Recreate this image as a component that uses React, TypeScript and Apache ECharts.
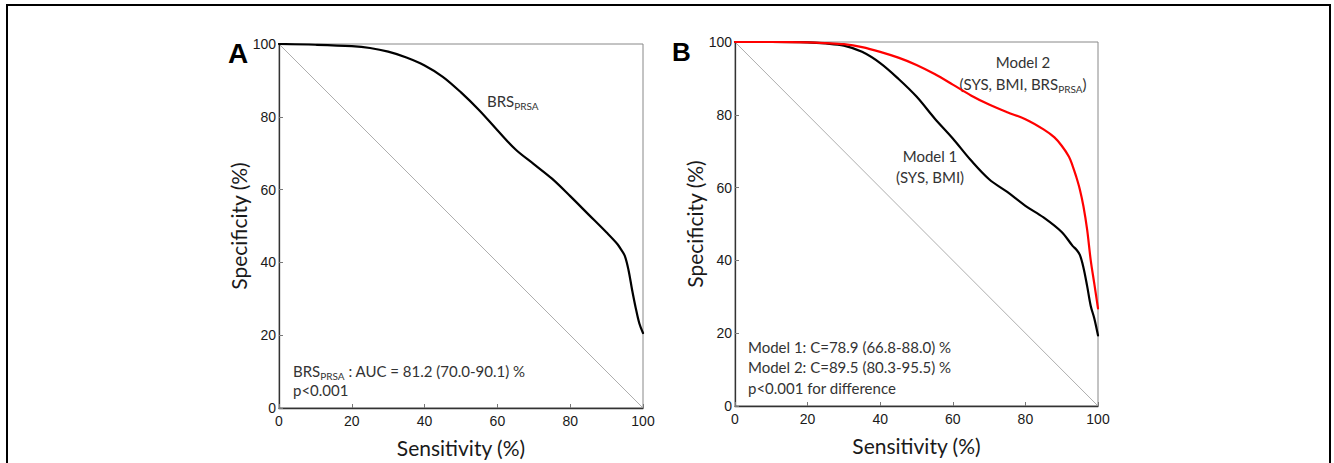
import React, { useEffect, useRef } from "react";
import * as echarts from "echarts";

// ---------------- data ----------------
const tickValues = [0, 20, 40, 60, 80, 100];

// Panel A: BRS_PRSA ROC curve (sensitivity %, specificity %)
const sensitivityA = [0, 10, 20, 25, 30, 35, 40, 45, 50, 55, 60, 65, 70, 75, 80, 85, 90, 93, 94, 95, 96, 97, 98, 99, 100];
const specificityA = [100, 99.8, 99.4, 98.9, 97.9, 96.3, 94.1, 91, 86.7, 81.8, 76.3, 71, 67, 63, 58.2, 53.2, 48.2, 45, 43.5, 41.8, 38, 32.5, 27.5, 23.2, 20.6];

// Panel B: Model 1 (SYS, BMI)
const sensitivityM1 = [0, 10, 20, 25, 30, 35, 40, 45, 50, 55, 60, 65, 70, 75, 80, 85, 90, 93, 94, 95, 96, 97, 98, 99, 100];
const specificityM1 = [100, 100, 99.9, 99.6, 99, 97.3, 94.2, 89.9, 85, 79, 73.5, 67.5, 62.3, 58.8, 55, 51.8, 47.8, 44, 43, 41.5, 38, 33, 27.5, 24, 19.4];

// Panel B: Model 2 (SYS, BMI, BRS_PRSA)
const sensitivityM2 = [0, 10, 20, 25, 30, 35, 40, 45, 50, 55, 60, 65, 70, 75, 80, 85, 88, 90, 92, 93, 94, 95, 96, 97, 98, 99, 100];
const specificityM2 = [100, 100, 99.9, 99.7, 99.4, 98.6, 97.3, 95.7, 93.7, 91.2, 88.3, 85.3, 82.8, 80.7, 78.8, 76, 73.8, 71.5, 68.5, 66, 63, 59.5, 54.8, 48.5, 40, 33.5, 26.8];

// Chance diagonal
const diagonalSens = [0, 100];
const diagonalSpec = [100, 0];

// ---------------- styles ----------------
const annotFont = "Lato, 'Open Sans', sans-serif";
const tickFont = "'Liberation Sans', Arial, sans-serif";
const subRich = {
  s: { fontSize: 10, fontFamily: annotFont, fill: "#333", verticalAlign: "bottom", lineHeight: 10 },
};

const pairs = (xs: number[], ys: number[]) => xs.map((x, i) => [x, ys[i]]);

function makeX(gridIndex: number) {
  return {
    type: "value",
    gridIndex,
    min: 0,
    max: 100,
    interval: 20,
    axisLine: { show: true, onZero: false, lineStyle: { color: "#333", width: 1.3 } },
    axisTick: { show: true, inside: true, length: 4, lineStyle: { color: "#777" } },
    axisLabel: {
      color: "#1a1a1a",
      fontFamily: tickFont,
      fontSize: 14,
      margin: 6,
      formatter: (v: number) => (tickValues.includes(v) ? String(v) : ""),
    },
    splitLine: { show: false },
    name: "Sensitivity (%)",
    nameLocation: "middle",
    nameGap: 29,
    nameTextStyle: { fontFamily: annotFont, fontSize: 21, color: "#1a1a1a" },
  };
}

function makeY(gridIndex: number) {
  return {
    type: "value",
    gridIndex,
    min: 0,
    max: 100,
    interval: 20,
    axisLine: { show: true, onZero: false, lineStyle: { color: "#333", width: 1.3 } },
    axisTick: { show: true, inside: true, length: 4, lineStyle: { color: "#777" } },
    axisLabel: {
      color: "#1a1a1a",
      fontFamily: tickFont,
      fontSize: 14,
      margin: 3,
      formatter: (v: number) => (tickValues.includes(v) ? String(v) : ""),
    },
    splitLine: { show: false },
    name: "Specificity (%)",
    nameLocation: "middle",
    nameRotate: 90,
    nameGap: 30,
    nameTextStyle: { fontFamily: annotFont, fontSize: 21, color: "#1a1a1a" },
  };
}

function textEl(x: number, y: number, text: string, align: string, size: number, family: string, weight = "normal", fill = "#333") {
  return {
    type: "text",
    x,
    y,
    silent: true,
    style: {
      text,
      fill,
      fontSize: size,
      fontFamily: family,
      fontWeight: weight,
      align,
      textAlign: align,
      verticalAlign: "middle",
      textVerticalAlign: "middle",
      lineHeight: 20,
      rich: subRich,
    },
  };
}

export default function App() {
  const ref = useRef<HTMLDivElement>(null);

  useEffect(() => {
    document.body.style.margin = "0";
    const chart = echarts.init(ref.current as HTMLDivElement, null, { renderer: "svg" });
    const curve = (xi: number, xs: number[], ys: number[], color: string) => ({
      type: "line", xAxisIndex: xi, yAxisIndex: xi, data: pairs(xs, ys),
      showSymbol: false, symbol: "none", smooth: 0.35,
      lineStyle: { color, width: 2.2, cap: "round", join: "round" },
    });
    const diag = (xi: number) => ({
      type: "line", xAxisIndex: xi, yAxisIndex: xi, data: pairs(diagonalSens, diagonalSpec),
      showSymbol: false, symbol: "none", lineStyle: { color: "#999", width: 0.8 }, silent: true,
    });
    const option = {
      animation: false,
      backgroundColor: "#ffffff",
      grid: [
        { left: 279, top: 44, width: 364, height: 364, show: true, borderColor: "#888", borderWidth: 1, backgroundColor: "transparent" },
        { left: 735, top: 42, width: 363, height: 364, show: true, borderColor: "#888", borderWidth: 1, backgroundColor: "transparent" },
      ],
      xAxis: [makeX(0), makeX(1)],
      yAxis: [makeY(0), makeY(1)],
      series: [
        diag(0),
        curve(0, sensitivityA, specificityA, "#000"),
        diag(1),
        curve(1, sensitivityM1, specificityM1, "#000"),
        curve(1, sensitivityM2, specificityM2, "#ff0000"),
      ],
      graphic: [
        {
          type: "rect", silent: true,
          shape: { x: 7, y: 5, width: 1323, height: 480 },
          style: { fill: "none", stroke: "#000", lineWidth: 2 },
        },
        textEl(228, 53, "A", "left", 28, tickFont, "bold", "#000"),
        textEl(672, 52, "B", "left", 26, tickFont, "bold", "#000"),
        textEl(487, 101, "BRS{s|PRSA}", "left", 15, annotFont),
        textEl(293, 371, "BRS{s|PRSA} : AUC = 81.2 (70.0-90.1) %", "left", 15, annotFont),
        textEl(293, 390, "p<0.001", "left", 15, annotFont),
        textEl(1023, 62, "Model 2", "center", 15, annotFont),
        textEl(1023, 84, "(SYS, BMI, BRS{s|PRSA})", "center", 15, annotFont),
        textEl(930, 156, "Model 1", "center", 15, annotFont),
        textEl(930, 177, "(SYS, BMI)", "center", 15, annotFont),
        textEl(748, 347, "Model 1: C=78.9 (66.8-88.0) %", "left", 15, annotFont),
        textEl(748, 367, "Model 2: C=89.5 (80.3-95.5) %", "left", 15, annotFont),
        textEl(748, 388, "p<0.001 for difference", "left", 15, annotFont),
      ],
    };
    chart.setOption(option as any);
    return () => chart.dispose();
  }, []);

  return <div ref={ref} style={{ width: 1334, height: 463 }} />;
}
